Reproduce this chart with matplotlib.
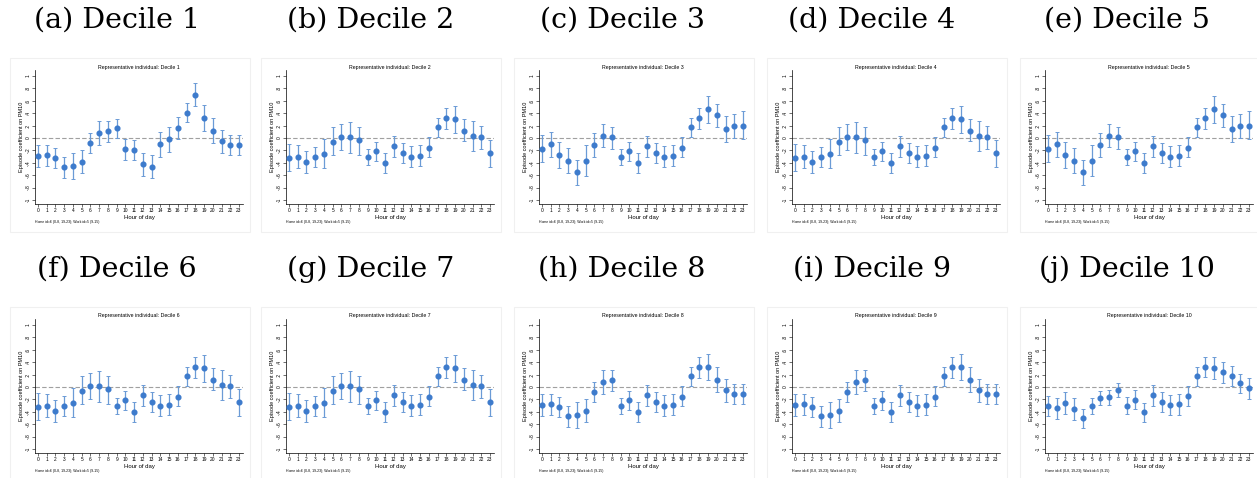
import matplotlib.pyplot as plt
from matplotlib.patches import Rectangle

W, H = 1257, 478
hours = list(range(24))

# coefficient, lower and upper bound
coef_d1 = [-0.285, -0.28, -0.32, -0.47, -0.45, -0.38, -0.086, 0.08, 0.11, 0.16, -0.18, -0.19,
           -0.42, -0.46, -0.10, -0.02, 0.16, 0.41, 0.70, 0.33, 0.12, -0.05, -0.11, -0.11]
lo_d1 = [-0.47, -0.45, -0.49, -0.64, -0.66, -0.57, -0.25, -0.12, -0.065, 0.005, -0.35, -0.35,
         -0.61, -0.65, -0.30, -0.23, -0.02, 0.25, 0.52, 0.12, -0.075, -0.24, -0.27, -0.27]
hi_d1 = [-0.11, -0.11, -0.16, -0.31, -0.25, -0.19, 0.086, 0.27, 0.28, 0.31, -0.02, -0.027,
         -0.24, -0.27, 0.10, 0.18, 0.34, 0.57, 0.89, 0.53, 0.33, 0.13, 0.055, 0.055]

coef_d2 = [-0.32, -0.30, -0.39, -0.30, -0.26, -0.06, 0.02, 0.01, -0.04, -0.30, -0.21, -0.40,
           -0.13, -0.25, -0.30, -0.285, -0.155, 0.17, 0.32, 0.30, 0.12, 0.03, 0.01, -0.25]
lo_d2 = [-0.54, -0.48, -0.56, -0.46, -0.49, -0.28, -0.20, -0.24, -0.27, -0.43, -0.37, -0.56,
         -0.31, -0.41, -0.46, -0.45, -0.31, 0.016, 0.15, 0.075, -0.05, -0.21, -0.18, -0.46]
hi_d2 = [-0.09, -0.11, -0.21, -0.14, -0.01, 0.17, 0.23, 0.25, 0.18, -0.17, -0.065, -0.25,
         0.04, -0.08, -0.13, -0.12, 0.01, 0.33, 0.49, 0.52, 0.30, 0.27, 0.20, -0.04]

coef_d3 = [-0.17, -0.10, -0.27, -0.37, -0.55, -0.37, -0.12, 0.04, 0.01, -0.30, -0.21, -0.40,
           -0.13, -0.25, -0.30, -0.285, -0.155, 0.17, 0.32, 0.46, 0.37, 0.15, 0.20, 0.20]
lo_d3 = [-0.38, -0.30, -0.49, -0.57, -0.76, -0.61, -0.31, -0.145, -0.17, -0.43, -0.37, -0.56,
         -0.31, -0.41, -0.46, -0.45, -0.31, 0.016, 0.15, 0.24, 0.18, -0.06, 0.0, -0.02]
hi_d3 = [0.05, 0.10, -0.06, -0.16, -0.35, -0.12, 0.086, 0.22, 0.18, -0.17, -0.065, -0.25,
         0.04, -0.08, -0.13, -0.12, 0.01, 0.33, 0.49, 0.67, 0.55, 0.35, 0.39, 0.43]

coef_d8 = [-0.285, -0.28, -0.32, -0.47, -0.45, -0.38, -0.086, 0.08, 0.11, -0.30, -0.21, -0.40,
           -0.13, -0.25, -0.30, -0.285, -0.155, 0.17, 0.32, 0.33, 0.12, -0.05, -0.11, -0.11]
lo_d8 = [-0.47, -0.45, -0.49, -0.64, -0.66, -0.57, -0.25, -0.12, -0.065, -0.43, -0.37, -0.56,
         -0.31, -0.41, -0.46, -0.45, -0.31, 0.016, 0.15, 0.12, -0.075, -0.24, -0.27, -0.27]
hi_d8 = [-0.11, -0.11, -0.16, -0.31, -0.25, -0.19, 0.086, 0.27, 0.28, -0.17, -0.065, -0.25,
         0.04, -0.08, -0.13, -0.12, 0.01, 0.33, 0.49, 0.53, 0.33, 0.13, 0.055, 0.055]

coef_d10 = [-0.30, -0.345, -0.26, -0.355, -0.50, -0.30, -0.18, -0.16, -0.05, -0.30, -0.205, -0.40,
            -0.135, -0.245, -0.29, -0.28, -0.15, 0.178, 0.32, 0.30, 0.24, 0.18, 0.06, -0.02]
lo_d10 = [-0.47, -0.51, -0.43, -0.53, -0.66, -0.44, -0.29, -0.285, -0.155, -0.435, -0.355, -0.56,
          -0.31, -0.41, -0.45, -0.45, -0.31, 0.016, 0.156, 0.13, 0.07, 0.02, -0.09, -0.19]
hi_d10 = [-0.14, -0.18, -0.086, -0.18, -0.355, -0.17, -0.065, -0.05, 0.06, -0.165, -0.055, -0.26,
          0.04, -0.08, -0.135, -0.12, 0.01, 0.33, 0.485, 0.48, 0.41, 0.34, 0.21, 0.15]

deciles = [
    (coef_d1, lo_d1, hi_d1),
    (coef_d2, lo_d2, hi_d2),
    (coef_d3, lo_d3, hi_d3),
    (coef_d2, lo_d2, hi_d2),
    (coef_d3, lo_d3, hi_d3),
    (coef_d2, lo_d2, hi_d2),
    (coef_d2, lo_d2, hi_d2),
    (coef_d8, lo_d8, hi_d8),
    (coef_d8, lo_d8, hi_d8),
    (coef_d10, lo_d10, hi_d10),
]
letters = ['a', 'b', 'c', 'd', 'e', 'f', 'g', 'h', 'i', 'j']
footnote = 'Home id=6 (0-8, 19-23); Work id=5 (9-15)'

yticks = [1, 0.8, 0.6, 0.4, 0.2, 0, -0.2, -0.4, -0.6, -0.8, -1]
ytick_labels = ['1', '.8', '.6', '.4', '.2', '0', '-.2', '-.4', '-.6', '-.8', '-1']

ax_left = [35, 286, 539, 792, 1045]
cap_x = [117, 371, 622, 872, 1127]
ax_w = 208

fig = plt.figure(figsize=(W / 100, H / 100), dpi=100)
fig.patch.set_facecolor('white')


def fx(px):
    return px / W


def fy(py):
    return 1 - py / H


for k in range(10):
    row, col = divmod(k, 5)
    off = row * 249
    top, bot = 70 + off, 204 + off
    left = ax_left[col]

    # light frame around each sub-figure
    fig.patches.append(Rectangle((fx(left - 25), fy(232 + off)), fx(240), 174 / H,
                                 transform=fig.transFigure, fill=False,
                                 edgecolor='#f0f0f0', lw=0.8))

    fig.text(fx(cap_x[col]), fy(20 + off), '(%s) Decile %d' % (letters[k], k + 1),
             family='DejaVu Serif', fontsize=20.5, ha='center', va='center')

    ax = fig.add_axes([fx(left), fy(bot), fx(ax_w), (bot - top) / H])
    coef, lo, hi = deciles[k]
    yerr = [[c - l for c, l in zip(coef, lo)], [h - c for c, h in zip(coef, hi)]]
    ax.axhline(0, color='#a0a0a0', lw=0.8, dashes=(4, 2), zorder=1)
    ax.errorbar(hours, coef, yerr=yerr, fmt='o', ms=3.4, color='#3d7bcc',
                ecolor='#6b9bd6', elinewidth=0.9, capsize=1.6, capthick=0.7, zorder=3)

    ax.set_xlim(-0.34, 23.46)
    ax.set_ylim(-1.065, 1.097)
    ax.set_xticks(hours)
    ax.set_xticklabels([str(h) for h in hours], fontsize=3.5, family='Liberation Sans')
    ax.set_yticks(yticks)
    ax.set_yticklabels(ytick_labels, fontsize=3.5, family='Liberation Sans',
                       rotation=90, va='center')
    ax.tick_params(length=2, width=0.4, pad=1)
    for s in ['top', 'right']:
        ax.spines[s].set_visible(False)
    for s in ['left', 'bottom']:
        ax.spines[s].set_linewidth(0.5)
    ax.set_xlabel('Hour of day', fontsize=4.3, family='Liberation Sans', labelpad=1)
    ax.set_ylabel('Episode coefficient on PM10', fontsize=4.0, family='Liberation Sans',
                  labelpad=1.5)

    fig.text(fx(left + ax_w / 2), fy(67 + off),
             'Representative individual: Decile %d' % (k + 1),
             fontsize=3.8, family='Liberation Sans', ha='center', va='center')
    fig.text(fx(left), fy(222 + off), footnote, fontsize=2.5,
             family='Liberation Sans', ha='left', va='center')

fig.savefig('out.png', dpi=100, facecolor='white')
